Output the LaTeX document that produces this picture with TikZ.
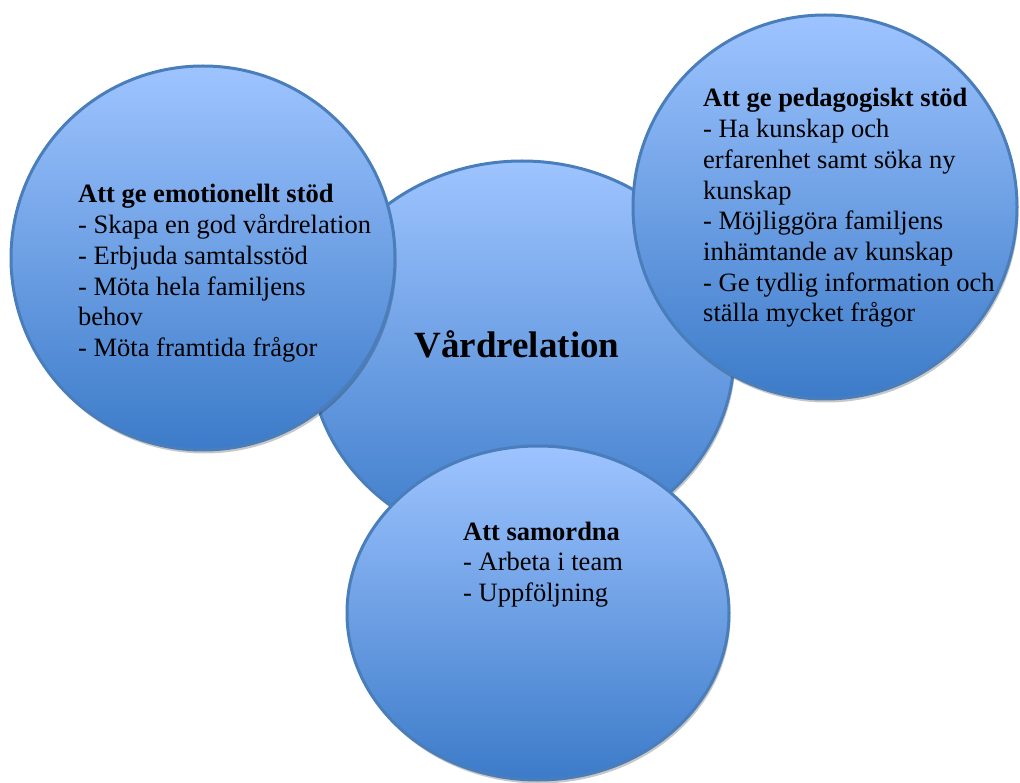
\documentclass[tikz,border=0pt]{standalone}
\usepackage{fontspec}
\setmainfont{Liberation Serif}
\usetikzlibrary{shapes.geometric}
\definecolor{bordc}{HTML}{4A7EBB}
\definecolor{topc}{HTML}{9EC4FF}
\definecolor{botc}{HTML}{3C7BC9}
\tikzset{
  bub/.style={draw=bordc, line width=3pt, top color=topc, bottom color=botc, inner sep=0pt},
  shad/.style={fill=black, opacity=0.22},
  lbl/.style={anchor=base west, inner sep=0pt, font=\fontsize{26.5}{30.7}\selectfont},
  big/.style={anchor=base, inner sep=0pt, font=\fontsize{37}{44}\selectfont\bfseries},
}
\begin{document}
\begin{tikzpicture}[x=1pt,y=-1pt]
\useasboundingbox (0,0) rectangle (1020,783);
% central
\fill[shad] (523.5,357.5) ellipse [x radius=212, y radius=193];
\node[bub, ellipse, minimum width=424pt, minimum height=386pt] (vard) at (522,354) {};
% left
\fill[shad] (204.5,261.5) circle [radius=192];
\node[bub, circle, minimum size=384pt] (emo) at (203,258) {};
% right
\fill[shad] (826.5,210.5) circle [radius=192];
\node[bub, circle, minimum size=384pt] (ped) at (825,207) {};
% bottom
\fill[shad] (539.5,616.5) ellipse [x radius=191, y radius=167];
\node[bub, ellipse, minimum width=382pt, minimum height=334pt] (sam) at (538,613) {};
% texts
\node[big] (tvard) at (517,358) {Vårdrelation};
\node[lbl] (temo) at (78,203) {\begin{tabular}[t]{@{}l@{}}\textbf{Att ge emotionellt stöd}\\- Skapa en god vårdrelation\\- Erbjuda samtalsstöd\\- Möta hela familjens\\behov\\- Möta framtida frågor\end{tabular}};
\node[lbl] (tped) at (703,107) {\begin{tabular}[t]{@{}l@{}}\textbf{Att ge pedagogiskt stöd}\\- Ha kunskap och\\erfarenhet samt söka ny\\kunskap\\- Möjliggöra familjens\\inhämtande av kunskap\\- Ge tydlig information och\\ställa mycket frågor\end{tabular}};
\node[lbl] (tsam) at (463,540) {\begin{tabular}[t]{@{}l@{}}\textbf{Att samordna}\\- Arbeta i team\\- Uppföljning\end{tabular}};
\end{tikzpicture}
\end{document}
